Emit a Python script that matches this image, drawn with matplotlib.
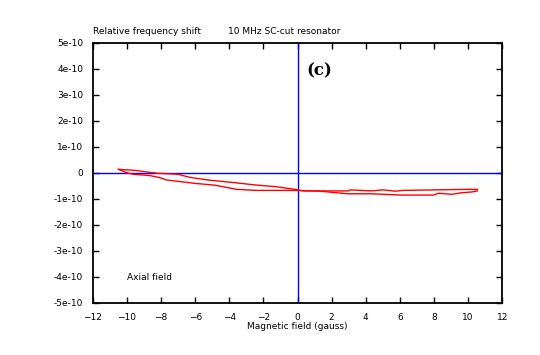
import numpy as np
import matplotlib.pyplot as plt

# upper branch of the loop (field in gauss, shift in units of 1e-10)
x_up = [-10.5, -9.53, -8.26, -7.0, -6.31, -5.13, -3.86, -2.49, -1.22, -0.15,
        0.34, 2.98, 3.08, 4.35, 5.03, 5.72, 6.21, 9.93, 10.55]
y_up = [0.14, 0.10, -0.01, -0.05, -0.17, -0.28, -0.36, -0.46, -0.53, -0.63,
        -0.69, -0.69, -0.65, -0.69, -0.65, -0.70, -0.67, -0.63, -0.63]

# lower branch
x_lo = [-10.5, -10.02, -9.63, -8.65, -8.07, -7.68, -6.9, -6.01, -4.84, -3.57,
        -2.4, -0.25, 1.32, 2.59, 2.98, 4.35, 6.11, 7.97, 8.26, 9.05, 9.63, 10.22, 10.55]
y_lo = [0.14, 0.01, -0.05, -0.10, -0.18, -0.27, -0.33, -0.40, -0.47, -0.63,
        -0.67, -0.67, -0.70, -0.78, -0.80, -0.80, -0.85, -0.85, -0.78, -0.82, -0.76, -0.73, -0.69]

y_ticks = np.arange(-5, 6)
y_labels = ["%de-10" % v if v != 0 else "0" for v in y_ticks]
x_ticks = np.arange(-12, 13, 2)

plt.rcParams['font.family'] = 'DejaVu Sans'
fig = plt.figure(figsize=(5.4, 3.55), dpi=100)
ax = fig.add_axes([0.172, 0.1465, 0.758, 0.7325])

ax.axhline(0, color='#0000ff', lw=1.0)
ax.axvline(0, color='#0000ff', lw=1.0)
ax.plot(np.array(x_up), np.array(y_up) * 1e-10, color='#ff0000', lw=1.0)
ax.plot(np.array(x_lo), np.array(y_lo) * 1e-10, color='#ff0000', lw=1.0)

ax.set_xlim(-12, 12)
ax.set_ylim(-5e-10, 5e-10)
ax.set_xticks(x_ticks)
ax.set_yticks(y_ticks * 1e-10)
ax.set_yticklabels(y_labels)
ax.tick_params(direction='in', length=4, width=1, labelsize=6.5, top=True, right=True, pad=7)
for s in ax.spines.values():
    s.set_linewidth(1.3)

ax.set_xlabel("Magnetic field (gauss)", fontsize=6.5, labelpad=0)
fig.text(0.172, 0.905, "Relative frequency shift", fontsize=6.5)
fig.text(0.422, 0.905, "10 MHz SC-cut resonator", fontsize=6.5)
ax.text(0.5, 3.75e-10, "(c)", fontsize=12, family='DejaVu Serif', fontweight='bold')
ax.text(-10.0, -4.1e-10, "Axial field", fontsize=6.5)

fig.savefig("out.png", dpi=100)
